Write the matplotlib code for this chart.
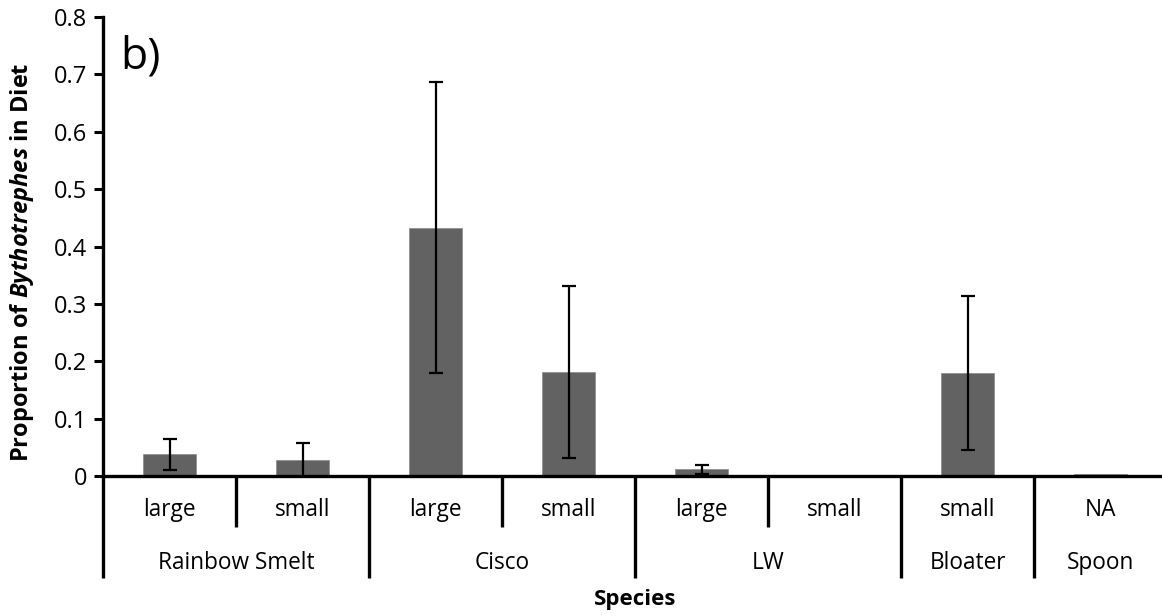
import matplotlib
matplotlib.use("Agg")
import matplotlib.pyplot as plt
import matplotlib.transforms as mtransforms
import numpy as np

plt.rcParams['font.family'] = ['Open Sans', 'DejaVu Sans']
plt.rcParams['mathtext.fontset'] = 'custom'
plt.rcParams['mathtext.bfit'] = 'Open Sans:italic:bold'
plt.rcParams['mathtext.rm'] = 'Open Sans:bold'

# data
groups = ["Rainbow Smelt", "Cisco", "LW", "Bloater", "Spoon"]
group_sizes = [2, 2, 2, 1, 1]
sizes = ["large", "small", "large", "small", "large", "small", "small", "NA"]
means = [0.038, 0.028, 0.433, 0.182, 0.012, 0.0, 0.179, 0.003]
errs = [0.027, 0.030, 0.253, 0.150, 0.008, 0.0, 0.134, 0.0]

W, H = 1162, 616
fig = plt.figure(figsize=(W / 100, H / 100), dpi=100)
x0, y0, x1, y1 = 103, 476, 1167, 17
ax = fig.add_axes([x0 / W, (H - y0) / H, (x1 - x0) / W, (y0 - y1) / H])

n = len(sizes)
x = np.arange(n) + 0.5
ax.bar(x, means, width=0.4, color='#626262', edgecolor='#8a8a8a', linewidth=0.5, zorder=2)

m = np.array(errs) > 0
ax.errorbar(x[m], np.array(means)[m], yerr=np.array(errs)[m], fmt='none',
            ecolor='black', elinewidth=1.6, capsize=5, capthick=1.6, zorder=3)

ax.set_xlim(0, n)
ax.set_ylim(0, 0.8)
ax.set_yticks(np.arange(0, 0.81, 0.1))
ax.set_yticklabels(['0'] + [f'{v:.1f}' for v in np.arange(0.1, 0.81, 0.1)])
ax.tick_params(axis='y', length=6.5, width=2.2, labelsize=17, pad=5)
ax.set_xticks([])
for s in ['top', 'right']:
    ax.spines[s].set_visible(False)
for s in ['left', 'bottom']:
    ax.spines[s].set_linewidth(2.4)

# multi-level category axis
trans = mtransforms.blended_transform_factory(ax.transData, ax.transAxes)
ah = y0 - y1
short = -51 / ah
long = -102 / ah
bounds = np.cumsum([0] + group_sizes)
for i in range(n + 1):
    yb = long if i in bounds else short
    ax.plot([i, i], [0, yb], color='black', lw=2.4, transform=trans,
            clip_on=False, solid_capstyle='butt')
for i, lab in enumerate(sizes):
    ax.text(i + 0.5, -34 / ah, lab, transform=trans, ha='center', va='center', fontsize=16.3)
for g, lab in enumerate(groups):
    c = (bounds[g] + bounds[g + 1]) / 2
    ax.text(c, -87 / ah, lab, transform=trans, ha='center', va='center', fontsize=16.3)

fig.text(635 / W, (H - 600) / H, 'Species', ha='center', va='center',
         fontsize=16, fontweight='bold')
fig.text(22 / W, (H - 262) / H, r'Proportion of $\mathbfit{Bythotrephes}$ in Diet',
         rotation=90, ha='center', va='center', fontsize=17, fontweight='bold')
ax.text(0.13, 0.73, 'b)', transform=ax.transData, fontsize=32, ha='left', va='center')

fig.savefig('out.png', dpi=100)
